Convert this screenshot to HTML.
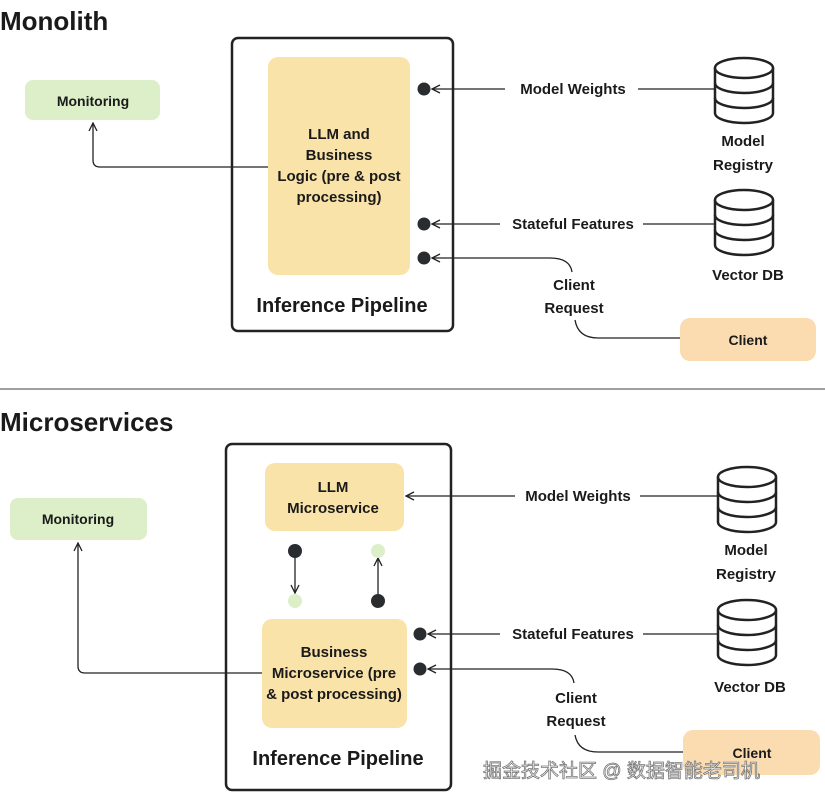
<!DOCTYPE html>
<html><head><meta charset="utf-8"><style>
html,body{margin:0;padding:0;background:#fff}
svg{display:block}
text{font-family:"Liberation Sans","Noto Sans CJK SC",sans-serif;fill:#1a1a1a}
.b{font-weight:bold}
</style></head><body>
<svg width="825" height="803" viewBox="0 0 825 803" xmlns="http://www.w3.org/2000/svg">
<defs>
<marker id="a" markerWidth="10" markerHeight="10" refX="9" refY="5" orient="auto" markerUnits="userSpaceOnUse">
<path d="M1,1 L9,5 L1,9" fill="none" stroke="#222" stroke-width="1.3"/>
</marker>
<g id="db">
<path d="M0,10 L0,55 A29,10 0 0 0 58,55 L58,10" fill="#fff" stroke="#222" stroke-width="2.5"/>
<ellipse cx="29" cy="10" rx="29" ry="10" fill="#fff" stroke="#222" stroke-width="2.5"/>
<path d="M0,25 A29,10 0 0 0 58,25 M0,40 A29,10 0 0 0 58,40" fill="none" stroke="#222" stroke-width="2.5"/>
</g>
</defs>
<g stroke="#222" fill="none" stroke-width="1.3">
<!-- top -->
<path d="M268,167 L100,167 Q93,167 93,160 L93,123" marker-end="url(#a)"/>
<path d="M505,89 L432,89" marker-end="url(#a)"/>
<path d="M638,89 L715,89"/>
<path d="M500,224 L432,224" marker-end="url(#a)"/>
<path d="M643,224 L715,224"/>
<path d="M572,272 Q570,258 550,258 L432,258" marker-end="url(#a)"/>
<path d="M575,320 Q578,338 598,338 L680,338"/>
<!-- bottom -->
<path d="M262,673 L85,673 Q78,673 78,666 L78,543" marker-end="url(#a)"/>
<path d="M515,496 L406,496" marker-end="url(#a)"/>
<path d="M640,496 L718,496"/>
<path d="M500,634 L428,634" marker-end="url(#a)"/>
<path d="M643,634 L718,634"/>
<path d="M574,683 Q572,669 552,669 L428,669" marker-end="url(#a)"/>
<path d="M575,735 Q578,752 598,752 L683,752"/>
<path d="M295,556 L295,593" marker-end="url(#a)"/>
<path d="M378,596 L378,558" marker-end="url(#a)"/>
</g>
<text x="0" y="30" class="b" font-size="26">Monolith</text>
<rect x="232" y="38" width="221" height="293" rx="6" fill="none" stroke="#222" stroke-width="2.5"/>
<rect x="268" y="57" width="142" height="218" rx="10" fill="#f9e3a9"/>
<g class="b" font-size="15" text-anchor="middle">
<text x="339" y="139">LLM and</text><text x="339" y="160">Business</text>
<text x="339" y="181">Logic (pre &amp; post</text><text x="339" y="202">processing)</text>
</g>
<text x="342" y="312" class="b" font-size="20" text-anchor="middle">Inference Pipeline</text>
<rect x="25" y="80" width="135" height="40" rx="8" fill="#dcefc8"/>
<text x="93" y="106" class="b" font-size="14" text-anchor="middle">Monitoring</text>
<circle cx="424" cy="89" r="6.5" fill="#2a2d30"/>
<circle cx="424" cy="224" r="6.5" fill="#2a2d30"/>
<circle cx="424" cy="258" r="6.5" fill="#2a2d30"/>
<g class="b" font-size="15" text-anchor="middle">
<text x="573" y="94">Model Weights</text>
<text x="573" y="229">Stateful Features</text>
<text x="574" y="290">Client</text><text x="574" y="313">Request</text>
<text x="743" y="146">Model</text><text x="743" y="170">Registry</text>
<text x="748" y="280">Vector DB</text>
</g>
<use href="#db" x="715" y="58"/>
<use href="#db" x="715" y="190"/>
<rect x="680" y="318" width="136" height="43" rx="10" fill="#fbdcb0"/>
<text x="748" y="345" class="b" font-size="14" text-anchor="middle">Client</text>
<line x1="0" y1="389" x2="825" y2="389" stroke="#666" stroke-width="1.3"/>
<text x="0" y="431" class="b" font-size="26">Microservices</text>
<rect x="226" y="444" width="225" height="346" rx="6" fill="none" stroke="#222" stroke-width="2.5"/>
<rect x="265" y="463" width="139" height="68" rx="10" fill="#f9e3a9"/>
<g class="b" font-size="15" text-anchor="middle">
<text x="333" y="492">LLM</text><text x="333" y="513">Microservice</text>
</g>
<rect x="262" y="619" width="145" height="109" rx="10" fill="#f9e3a9"/>
<g class="b" font-size="15" text-anchor="middle">
<text x="334" y="657">Business</text><text x="334" y="678">Microservice (pre</text>
<text x="334" y="699">&amp; post processing)</text>
</g>
<text x="338" y="765" class="b" font-size="20" text-anchor="middle">Inference Pipeline</text>
<circle cx="295" cy="551" r="7" fill="#2a2d30"/>
<circle cx="295" cy="601" r="7" fill="#dcefc8"/>
<circle cx="378" cy="551" r="7" fill="#dcefc8"/>
<circle cx="378" cy="601" r="7" fill="#2a2d30"/>
<circle cx="420" cy="634" r="6.5" fill="#2a2d30"/>
<circle cx="420" cy="669" r="6.5" fill="#2a2d30"/>
<rect x="10" y="498" width="137" height="42" rx="8" fill="#dcefc8"/>
<text x="78" y="524" class="b" font-size="14" text-anchor="middle">Monitoring</text>
<g class="b" font-size="15" text-anchor="middle">
<text x="578" y="501">Model Weights</text>
<text x="573" y="639">Stateful Features</text>
<text x="576" y="703">Client</text><text x="576" y="726">Request</text>
<text x="746" y="555">Model</text><text x="746" y="579">Registry</text>
<text x="750" y="692">Vector DB</text>
</g>
<use href="#db" x="718" y="467"/>
<use href="#db" x="718" y="600"/>
<rect x="683" y="730" width="137" height="45" rx="10" fill="#fbdcb0"/>
<text x="752" y="758" class="b" font-size="14" text-anchor="middle">Client</text>
<text x="483" y="777" font-size="19" style="fill:#fff;stroke:#777;stroke-width:0.8">掘金技术社区 @ 数据智能老司机</text>
</svg>
</body></html>
